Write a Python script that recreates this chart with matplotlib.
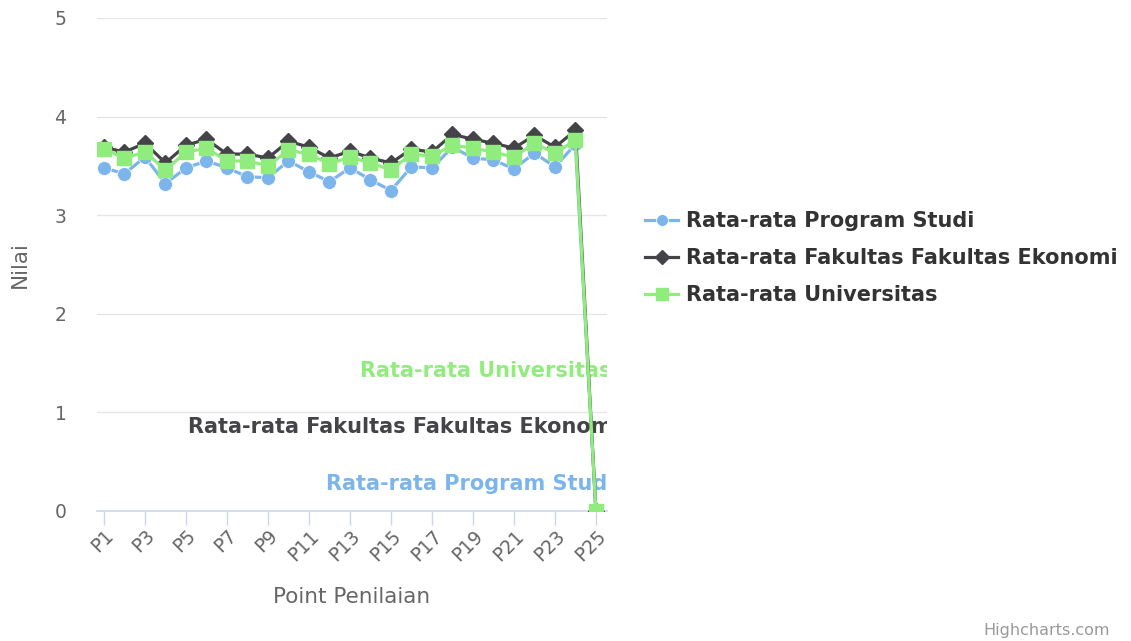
import matplotlib
matplotlib.use("Agg")
import matplotlib.pyplot as plt

categories = ["P%d" % i for i in range(1, 26)]
prodi = [3.48, 3.42, 3.59, 3.32, 3.48, 3.55, 3.48, 3.39, 3.38, 3.55, 3.44, 3.34,
         3.48, 3.36, 3.25, 3.49, 3.48, 3.69, 3.58, 3.56, 3.47, 3.63, 3.49, 3.72, 0.0]
fakultas = [3.69, 3.64, 3.73, 3.53, 3.71, 3.77, 3.62, 3.62, 3.58, 3.75, 3.69, 3.58,
            3.65, 3.58, 3.53, 3.67, 3.64, 3.82, 3.77, 3.73, 3.68, 3.81, 3.69, 3.86, 0.0]
univ = [3.67, 3.58, 3.64, 3.46, 3.64, 3.68, 3.55, 3.55, 3.50, 3.66, 3.62, 3.52,
        3.59, 3.53, 3.46, 3.62, 3.60, 3.71, 3.68, 3.64, 3.59, 3.73, 3.63, 3.76, 0.0]
series_names = ["Rata-rata Program Studi", "Rata-rata Fakultas Fakultas Ekonomi",
                "Rata-rata Universitas"]
colors = ["#7cb5ec", "#434348", "#90ed7d"]
y_ticks = [0, 1, 2, 3, 4, 5]

plt.rcParams['font.family'] = ['DejaVu Sans']
W, H = 1131, 641
fig = plt.figure(figsize=(W / 100, H / 100), dpi=100)
ax = fig.add_axes([97 / W, 1 - 511 / H, (607 - 97) / W, (511 - 18) / H])

x = list(range(len(categories)))
l1, = ax.plot(x, prodi, color=colors[0], lw=2.3, marker='o', ms=10, mec='white', mew=0.5,
              label=series_names[0], zorder=3)
l2, = ax.plot(x, fakultas, color=colors[1], lw=2.3, marker='D', ms=8.5, mec=colors[1],
              label=series_names[1], zorder=4)
l3, = ax.plot(x, univ, color=colors[2], lw=2.3, marker='s', ms=10.5, mec=colors[2],
              label=series_names[2], zorder=5)

ax.set_xlim(-0.34, 24.54)
ax.set_ylim(0, 5)
ax.set_yticks(y_ticks)
ax.set_xticks(x[::2])
ax.set_xticklabels(categories[::2], rotation=45, ha='right', va='top',
                   rotation_mode='anchor')
ax.tick_params(axis='x', length=10, width=1, color='#ccd6eb', labelsize=13.5,
               labelcolor='#666666', pad=1)
ax.tick_params(axis='y', length=0, labelsize=13.5, labelcolor='#666666', pad=22)
ax.grid(axis='y', color='#e6e6e6', lw=1)
ax.set_axisbelow(True)
for s in ['top', 'right', 'left']:
    ax.spines[s].set_visible(False)
ax.spines['bottom'].set_color('#ccd6eb')
ax.spines['bottom'].set_linewidth(1.2)

fig.text(20 / W, 1 - 265 / H, "Nilai", rotation=90, ha='center', va='center',
         fontsize=15.5, color='#666666')
fig.text(352 / W, 1 - 597 / H, "Point Penilaian", ha='center', va='center',
         fontsize=15.5, color='#666666')
fig.text(1110 / W, 1 - 631 / H, "Highcharts.com", ha='right', va='center',
         fontsize=11.5, color='#999999')

# series labels (clipped to plot area)
ax.text(24.78, 1.42, series_names[2], color=colors[2], fontsize=15, fontweight='bold',
        ha='right', va='center', clip_on=True)
ax.text(25.17, 0.85, series_names[1], color=colors[1], fontsize=15, fontweight='bold',
        ha='right', va='center', clip_on=True)
ax.text(24.88, 0.27, series_names[0], color=colors[0], fontsize=15, fontweight='bold',
        ha='right', va='center', clip_on=True)

leg = fig.legend(handles=[l1, l2, l3], loc='center left',
                 bbox_to_anchor=(645 / W, 1 - 258 / H), frameon=False,
                 prop={'weight': 'bold', 'size': 15}, labelcolor='#333333',
                 handlelength=1.6, handletextpad=0.35, labelspacing=0.82,
                 borderpad=0, borderaxespad=0, markerscale=0.85)

fig.savefig("out.png", dpi=100)
